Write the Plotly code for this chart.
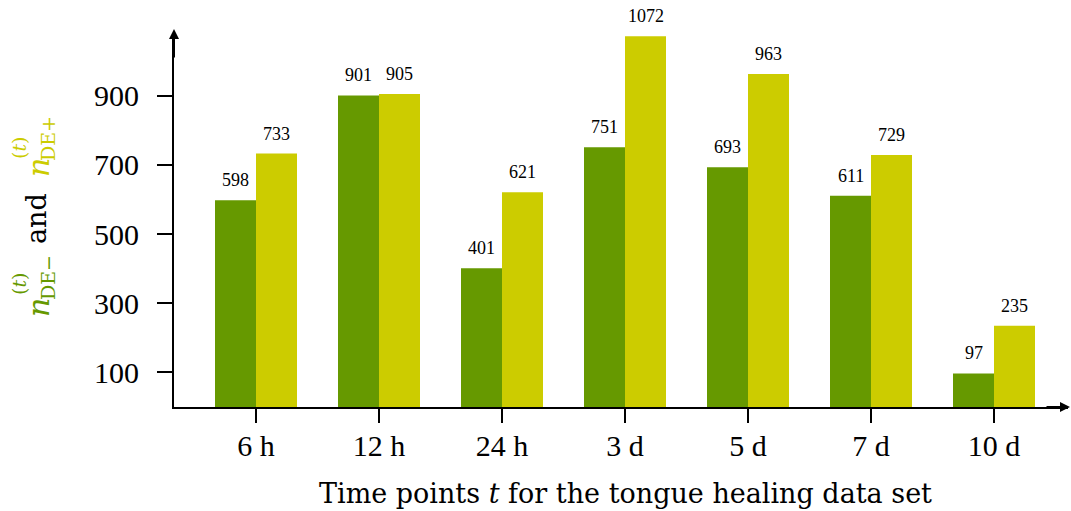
import plotly.graph_objects as go

# Time points and counts of differentially expressed genes
time_points = ["6 h", "12 h", "24 h", "3 d", "5 d", "7 d", "10 d"]
n_de_minus = [598, 901, 401, 751, 693, 611, 97]
n_de_plus = [733, 905, 621, 1072, 963, 729, 235]
y_ticks = [100, 300, 500, 700, 900]

GREEN = "#669900"
YELLOW = "#CCCC00"
NUM_FONT = "Liberation Serif"
TXT_FONT = "DejaVu Serif"

W, H = 1071, 511
L, R, T, B = 174, 3, 34, 104
plot_w = W - L - R
plot_h = H - T - B
cat_px = 123.0          # pixels per category
y_px = 0.3458           # pixels per count unit

x_lo = -82 / cat_px
x_hi = x_lo + plot_w / cat_px
y_hi = plot_h / y_px


def px_to_paper(px, py):
    return (px - L) / plot_w, (H - B - py) / plot_h


fig = go.Figure()
fig.add_trace(go.Bar(x=time_points, y=n_de_minus, marker=dict(color=GREEN, line=dict(width=0)),
                     name="DE-"))
fig.add_trace(go.Bar(x=time_points, y=n_de_plus, marker=dict(color=YELLOW, line=dict(width=0)),
                     name="DE+"))

annotations = []
# value labels above each bar
for i, (a, b) in enumerate(zip(n_de_minus, n_de_plus)):
    for off, v in ((-1 / 6, a), (1 / 6, b)):
        annotations.append(dict(x=i + off, y=v, xref="x", yref="y", text=str(v),
                                showarrow=False, yshift=20,
                                font=dict(family=NUM_FONT, size=18, color="black")))

# axis arrowheads
annotations.append(dict(x=1 + 7 / plot_w, y=0, xref="paper", yref="paper", ax=-30, ay=0,
                        text="", showarrow=True, arrowhead=2, arrowsize=1, arrowwidth=2,
                        arrowcolor="black"))
annotations.append(dict(x=0, y=1 + 5 / plot_h, xref="paper", yref="paper", ax=0, ay=30,
                        text="", showarrow=True, arrowhead=2, arrowsize=1, arrowwidth=2,
                        arrowcolor="black"))


# rotated y-axis label built from pieces so sub/superscripts stack
def label_piece(text, px, py, size, color):
    xp, yp = px_to_paper(px, py)
    annotations.append(dict(x=xp, y=yp, xref="paper", yref="paper", text=text,
                            showarrow=False, textangle=-90, xanchor="center", yanchor="middle",
                            font=dict(family=TXT_FONT, size=size, color=color)))


label_piece("<i>n</i>", 38, 308, 30, GREEN)
label_piece("DE−", 48, 278, 19, GREEN)
label_piece("(<i>t</i>)", 19, 284, 19, GREEN)
label_piece("and", 36, 219, 27, "black")
label_piece("<i>n</i>", 38, 168, 30, YELLOW)
label_piece("DE+", 48, 139, 19, YELLOW)
label_piece("(<i>t</i>)", 19, 148, 19, YELLOW)

# x-axis title
xt, yt = px_to_paper(625, 493)
annotations.append(dict(x=xt, y=yt, xref="paper", yref="paper",
                        text="Time points <i>t</i> for the tongue healing data set",
                        showarrow=False, xanchor="center", yanchor="middle",
                        font=dict(family=TXT_FONT, size=27, color="black")))

fig.update_layout(
    width=W, height=H,
    margin=dict(l=L, r=R, t=T, b=B, pad=0),
    paper_bgcolor="white", plot_bgcolor="white",
    barmode="group", bargap=1 / 3, bargroupgap=0,
    showlegend=False,
    font=dict(family=NUM_FONT, color="black"),
    annotations=annotations,
    xaxis=dict(range=[x_lo, x_hi], showline=True, linecolor="black", linewidth=2,
               ticks="outside", ticklen=14, tickwidth=2, tickcolor="black",
               showgrid=False, zeroline=False, tickfont=dict(family=NUM_FONT, size=30),
               ticklabelstandoff=-3),
    yaxis=dict(range=[0, y_hi], showline=True, linecolor="black", linewidth=2,
               ticks="outside", ticklen=15, tickwidth=2, tickcolor="black",
               tickvals=y_ticks, showgrid=False, zeroline=False,
               tickfont=dict(family=NUM_FONT, size=30), ticklabelstandoff=12),
)

fig.write_html("out.html")
